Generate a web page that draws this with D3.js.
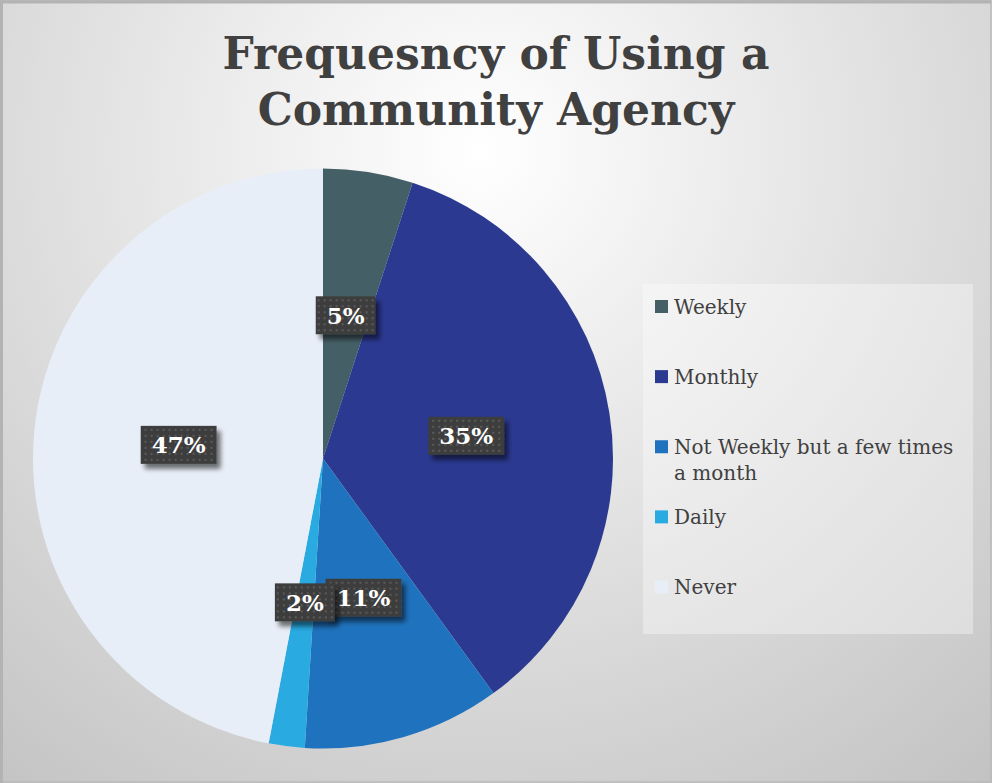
<!DOCTYPE html>
<html>
<head>
<meta charset="utf-8">
<script src="https://cdn.jsdelivr.net/npm/d3@7/dist/d3.min.js"></script>
<style>
  html, body { margin: 0; padding: 0; background: #ffffff; }
  svg { display: block; }
</style>
</head>
<body>
<script>
// Survey answers: how often respondents use a community agency (percent)
const categories = ["Weekly", "Monthly", "Not Weekly but a few times a month", "Daily", "Never"];
const percents = [5, 35, 11, 2, 47];
const sliceColors = ["#455f66", "#2b3990", "#1f72bd", "#29abe2", "#e8eef7"];
const titleLines = ["Frequesncy of Using a", "Community Agency"];

const W = 992, H = 783;
const serif = "'DejaVu Serif', 'Liberation Serif', serif";

const svg = d3.select("body").append("svg")
  .attr("width", W).attr("height", H);

const defs = svg.append("defs");

// Chart-area background: soft radial light from the top centre
const bg = defs.append("radialGradient")
  .attr("id", "bgGrad")
  .attr("gradientUnits", "userSpaceOnUse")
  .attr("cx", 480).attr("cy", 150).attr("r", 820);
bg.append("stop").attr("offset", "0%").attr("stop-color", "#ffffff");
bg.append("stop").attr("offset", "100%").attr("stop-color", "#c2c2c2");

// Dotted texture for the data-label boxes
const pat = defs.append("pattern")
  .attr("id", "dots")
  .attr("patternUnits", "userSpaceOnUse")
  .attr("width", 6).attr("height", 6);
pat.append("rect").attr("width", 6).attr("height", 6).attr("fill", "#3e3e3e");
pat.append("rect").attr("x", 2).attr("y", 2).attr("width", 2).attr("height", 2).attr("fill", "#5a5a5a");

// Soft drop shadow for the label boxes
const sh = defs.append("filter").attr("id", "shadow")
  .attr("x", "-30%").attr("y", "-30%").attr("width", "170%").attr("height", "180%");
sh.append("feGaussianBlur").attr("in", "SourceAlpha").attr("stdDeviation", 2.5).attr("result", "b");
sh.append("feOffset").attr("in", "b").attr("dx", 4).attr("dy", 5).attr("result", "o");
sh.append("feComponentTransfer").attr("in", "o").attr("result", "s")
  .append("feFuncA").attr("type", "linear").attr("slope", 0.55);
const m = sh.append("feMerge");
m.append("feMergeNode").attr("in", "s");
m.append("feMergeNode").attr("in", "SourceGraphic");

// Background and frame
svg.append("rect").attr("x", 0).attr("y", 0).attr("width", W).attr("height", H)
  .attr("fill", "url(#bgGrad)");
svg.append("rect").attr("x", 0.5).attr("y", 0.5).attr("width", W - 1.5).attr("height", H - 1.5)
  .attr("fill", "none").attr("stroke", "#bababa").attr("stroke-width", 1.5);
svg.append("path")
  .attr("d", `M1.5,${H} V2 H${W - 1}`)
  .attr("fill", "none").attr("stroke", "#b3b3b3").attr("stroke-width", 3);

// Title
const title = svg.append("text")
  .attr("text-anchor", "middle")
  .attr("font-family", serif)
  .attr("font-weight", "bold")
  .attr("font-size", 44)
  .attr("fill", "#404040");
titleLines.forEach((line, i) => {
  title.append("tspan").attr("x", 496).attr("y", 69 + i * 56).text(line);
});

// Pie
const cx = 323, cy = 458.5, R = 290;
const pie = d3.pie().sort(null).value(d => d)(percents);
const arc = d3.arc().innerRadius(0).outerRadius(R);
const color = d3.scaleOrdinal().domain(categories).range(sliceColors);

const g = svg.append("g").attr("transform", `translate(${cx},${cy})`);
g.selectAll("path.slice").data(pie).join("path")
  .attr("class", "slice")
  .attr("d", arc)
  .attr("fill", (d, i) => color(categories[i]));

// Data labels: dark dotted boxes at each slice's centroid
const labels = g.selectAll("g.lbl").data(pie).join("g")
  .attr("class", "lbl")
  .attr("transform", d => `translate(${arc.centroid(d)})`);

labels.each(function(d) {
  const sel = d3.select(this);
  const t = sel.append("text")
    .attr("text-anchor", "middle")
    .attr("dy", "0.36em")
    .attr("font-family", serif)
    .attr("font-weight", "bold")
    .attr("font-size", 23)
    .attr("fill", "#ffffff")
    .text(d.data + "%");
  const w = t.node().getComputedTextLength() + 22;
  const h = 38;
  sel.insert("rect", "text")
    .attr("x", -w / 2).attr("y", -h / 2)
    .attr("width", w).attr("height", h)
    .attr("fill", "url(#dots)")
    .attr("filter", "url(#shadow)");
});

// Legend
const legend = svg.append("g");
legend.append("rect")
  .attr("x", 643).attr("y", 284).attr("width", 330).attr("height", 350)
  .attr("fill", "#ffffff").attr("fill-opacity", 0.35);

const legendWrap = ["Weekly", "Monthly", ["Not Weekly but a few times", "a month"], "Daily", "Never"];
const ly = d3.scaleLinear().domain([0, categories.length - 1]).range([306.5, 587]);

const items = legend.selectAll("g.item").data(categories).join("g")
  .attr("class", "item")
  .attr("transform", (d, i) => `translate(655,${ly(i)})`);
items.append("rect")
  .attr("x", 0).attr("y", -6.5).attr("width", 13).attr("height", 13)
  .attr("fill", d => color(d));
items.append("text")
  .attr("font-family", serif)
  .attr("font-size", 20)
  .attr("fill", "#404040")
  .each(function(d, i) {
    const lines = [].concat(legendWrap[i]);
    lines.forEach((ln, j) => {
      d3.select(this).append("tspan").attr("x", 19).attr("y", 7 + j * 26).text(ln);
    });
  });
</script>
</body>
</html>
